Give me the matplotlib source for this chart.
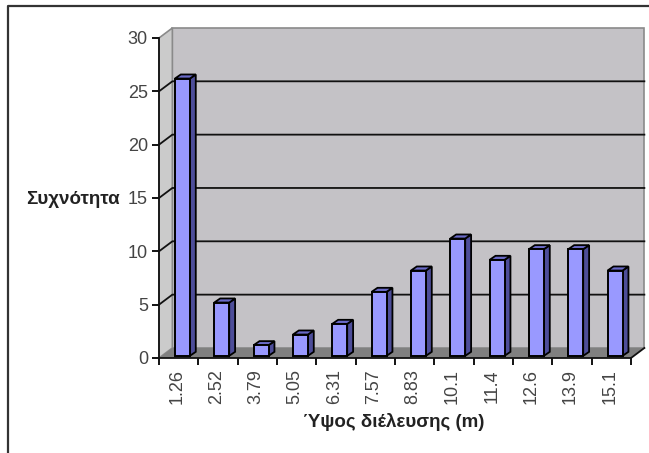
import matplotlib
matplotlib.use("Agg")
import matplotlib.pyplot as plt
from matplotlib.lines import Line2D

plt.rcParams['font.family'] = ['Liberation Sans', 'DejaVu Sans']

categories = ['1.26', '2.52', '3.79', '5.05', '6.31', '7.57', '8.83', '10.1', '11.4', '12.6', '13.9', '15.1']
counts = [26, 5, 1, 2, 3, 6, 8, 11, 9, 10, 10, 8]
y_ticks = [0, 5, 10, 15, 20, 25, 30]

W, H = 649, 453

# 3d look: depth of the box and of the bars, in data units
box_dx, box_dy = 0.34, 0.94
bar_dx, bar_dy = 0.15, 0.38
bar_w = 0.38
bar_shift = 0.405
bar_base = 0.2


def main():
    fig = plt.figure(figsize=(W / 100, H / 100), dpi=100)
    ax = fig.add_axes([159 / W, 1 - 358 / H, 472 / W, 320 / H])
    ax.set_xlim(0, 12)
    ax.set_ylim(0, 30)
    ax.patch.set_visible(False)

    # walls and floor
    ax.fill([box_dx, 12 + box_dx, 12 + box_dx, box_dx], [box_dy, box_dy, 30 + box_dy, 30 + box_dy],
            facecolor='#c4c2c6', edgecolor='#8a8a8a', lw=1.2, clip_on=False, zorder=1)
    ax.fill([0, box_dx, box_dx, 0], [0, box_dy, 30 + box_dy, 30], facecolor='#cbcbcb',
            edgecolor='#8a8a8a', lw=1.2, clip_on=False, zorder=1)
    ax.fill([0, 12, 12 + box_dx, box_dx], [0, 0, box_dy, box_dy], facecolor='#808080',
            edgecolor='none', clip_on=False, zorder=1)

    # gridlines
    for v in y_ticks[1:-1]:
        ax.plot([0, box_dx, 12 + box_dx], [v, v + box_dy, v + box_dy], color='#111111', lw=1.3,
                clip_on=False, zorder=2)

    # floor right edge stub
    ax.plot([12, 12 + box_dx], [0, box_dy], color='#111111', lw=1.3, clip_on=False, zorder=2)

    # bars
    for i, c in enumerate(counts):
        x0 = i + bar_shift
        x1 = x0 + bar_w
        top = c + bar_base
        ax.fill([x1, x1 + bar_dx, x1 + bar_dx, x1], [bar_base, bar_base + bar_dy, top + bar_dy, top],
                facecolor='#4d4d99', edgecolor='#000000', lw=1.3, clip_on=False, zorder=3)
        ax.fill([x0, x0 + bar_dx, x1 + bar_dx, x1], [top, top + bar_dy, top + bar_dy, top],
                facecolor='#6a6ac8', edgecolor='#000000', lw=1.3, clip_on=False, zorder=3)
        ax.bar(x0, c, width=bar_w, bottom=bar_base, align='edge', facecolor='#9999ff',
               edgecolor='#000000', lw=1.4, clip_on=False, zorder=4)

    # axes, ticks
    for s in ['top', 'right']:
        ax.spines[s].set_visible(False)
    for s in ['left', 'bottom']:
        ax.spines[s].set_linewidth(1.3)
        ax.spines[s].set_color('#111111')
        ax.spines[s].set_zorder(5)
    ax.set_yticks(y_ticks)
    ax.set_yticklabels([str(v) for v in y_ticks], fontsize=13, color='#444444')
    ax.tick_params(axis='y', length=5, width=1.3, pad=3)
    ax.set_xticks(range(13))
    ax.set_xticklabels([''] * 13)
    ax.set_xticks([i + 0.46 for i in range(12)], minor=True)
    ax.set_xticklabels(categories, minor=True, rotation=90, fontsize=13, color='#444444')
    ax.tick_params(axis='x', which='major', length=5, width=1.3)
    ax.tick_params(axis='x', which='minor', length=0, pad=8)

    fig.text(120 / W, 1 - 199 / H, 'Συχνότητα', fontsize=13.5, fontweight='bold', color='#222222',
             ha='right', va='center')
    fig.text(394 / W, 1 - 422 / H, 'Ύψος διέλευσης (m)', fontsize=13.5, fontweight='bold', color='#222222',
             ha='center', va='center')

    # outer frame, only top and left are inside the picture
    fig.add_artist(Line2D([8 / W, 8 / W, 1], [0, 1 - 5.5 / H, 1 - 5.5 / H], color='#333333', lw=1.6))

    fig.savefig('out.png', dpi=100)


if __name__ == "__main__":
    main()
